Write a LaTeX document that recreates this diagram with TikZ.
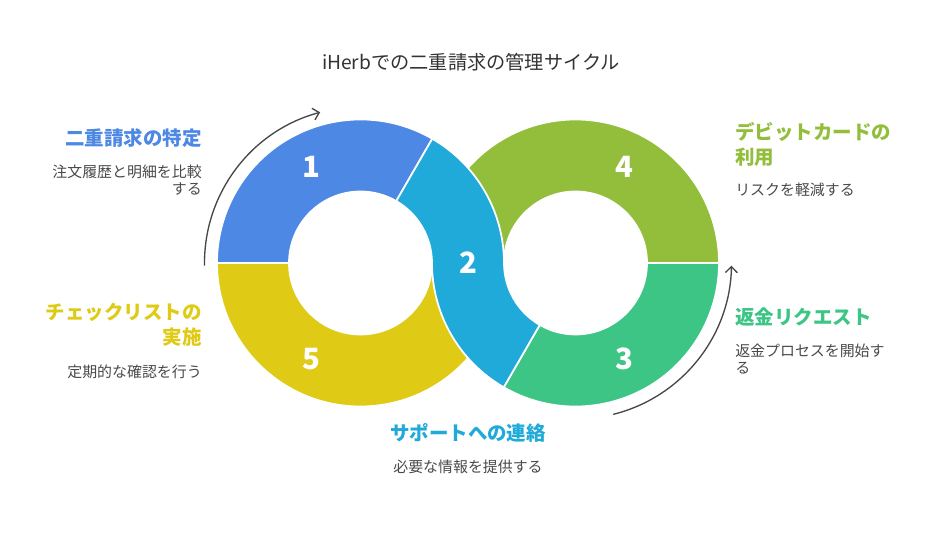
\documentclass[tikz,border=0pt]{standalone}
\usepackage{fontspec}
\setmainfont{Noto Sans CJK JP}
\usetikzlibrary{calc,arrows.meta}
\definecolor{segone}{HTML}{4D88E4}
\definecolor{segtwo}{HTML}{1FAAD9}
\definecolor{segthree}{HTML}{3DC585}
\definecolor{segfour}{HTML}{93BE3B}
\definecolor{segfive}{HTML}{DFCB16}
\definecolor{bodygray}{HTML}{4A4A4A}
\definecolor{titlegray}{HTML}{333333}
\def\Ro{143.5}
\def\Ri{71.5}
\def\ringseg[#1](#2)(#3:#4){\filldraw[#1] ($(#2)+(#3:\Ro)$) arc (#3:#4:\Ro) -- ($(#2)+(#4:\Ri)$) arc (#4:#3:\Ri) -- cycle;}
\tikzset{
  seg/.style={draw=white, line width=1.3pt},
  num/.style={text=white, font=\fontsize{22}{22}\selectfont\bfseries, inner sep=0pt},
  head/.style={font=\fontsize{14.6}{18.75}\selectfont\bfseries, inner sep=0pt},
  body/.style={text=bodygray, font=\fontsize{11.2}{12.9}\selectfont, inner sep=0pt},
  cyclearrow/.style={draw=titlegray!90, line width=1pt, -{Straight Barb[length=4.5pt,width=9pt]}}
}
\begin{document}
\begin{tikzpicture}[x=0.75pt, y=0.75pt]
		\useasboundingbox (0, 0) rectangle (936, 552);
		\fill[white] (0, 0) rectangle (936, 552);
		
		\coordinate (L) at (360.5, 289);
		\coordinate (R) at (575.5, 289);
		
		%%%%% RING %%%%%
		\ringseg[segfive, seg](L)(180:360)
		\ringseg[segone, seg](L)(60:180)
		\ringseg[segfour, seg](R)(0:180)
		\ringseg[segthree, seg](R)(240:360)
		\filldraw[segtwo, seg] ($(L)+(60:\Ro)$) arc (60:0:\Ro) arc (180:240:\Ri)
			-- ($(R)+(240:\Ro)$) arc (240:180:\Ro) arc (0:60:\Ri) -- cycle;
		
		\node[num] (n1) at ($(L)+(117:107.5)$) {1};
		\node[num] (n2) at ($(L)!0.5!(R)$) {2};
		\node[num] (n3) at ($(R)+(-63:107.5)$) {3};
		\node[num] (n4) at ($(R)+(63:107.5)$) {4};
		\node[num] (n5) at ($(L)+(243:107.5)$) {5};
		
		%%%%% ARROWS %%%%%
		\draw[cyclearrow] ($(L)+(181:156)$) arc (181:105:156);
		\draw[cyclearrow] ($(R)+(-76:156)$) arc (-76:-1:156);
		
		%%%%% TEXTS %%%%%
		\node[text=titlegray, font=\fontsize{14.4}{16}\selectfont, inner sep=0pt] (title) at (471, 490) {iHerbでの二重請求の管理サイクル};
		
		\node[head, text=segone, anchor=east] (h1) at (202, 414) {二重請求の特定};
		\node[body, anchor=east, align=right] (b1) at (202, 371.5) {注文履歴と明細を比較\\する};
		
		\node[head, text=segfive, anchor=east, align=right] (h5) at (202, 227.5) {チェックリストの\\実施};
		\node[body, anchor=east] (b5) at (202, 180) {定期的な確認を行う};
		
		\node[head, text=segfour, anchor=west, align=left] (h4) at (735, 407.5) {デビットカードの\\利用};
		\node[body, anchor=west] (b4) at (735, 362) {リスクを軽減する};
		
		\node[head, text=segthree, anchor=west] (h3) at (735, 235) {返金リクエスト};
		\node[body, anchor=west, align=left] (b3) at (735, 193) {返金プロセスを開始す\\る};
		
		\node[head, text=segtwo] (h2) at (468, 119) {サポートへの連絡};
		\node[body] (b2) at (468, 85) {必要な情報を提供する};
		
	\end{tikzpicture}
\end{document}
